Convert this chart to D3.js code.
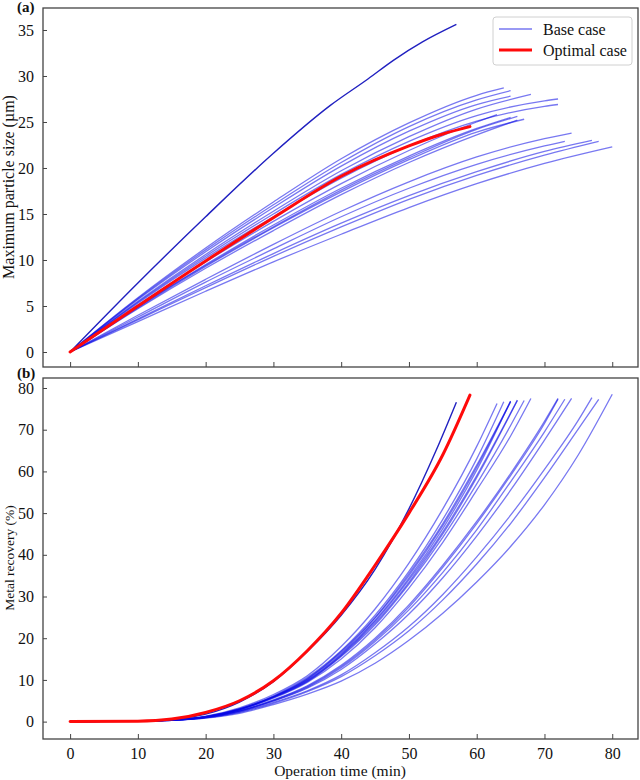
<!DOCTYPE html>
<html><head><meta charset="utf-8">
<script src="https://cdn.jsdelivr.net/npm/d3@7"></script>
<style>body{margin:0;background:#fff}svg{display:block}</style>
</head><body><svg id="c" width="640" height="780"></svg>
<script>
// ---- data ----
const xTicks = [0,10,20,30,40,50,60,70,80];
const sizeTicks = [0,5,10,15,20,25,30,35];
const recTicks = [0,10,20,30,40,50,60,70,80];
const legendLabels = ["Base case","Optimal case"];

// Panel (a): maximum particle size (um) vs time (min), one list per base-case run
const sizeDark = [[0,0],[10,7.5],[20,14.7],[30,21.6],[38.4,26.8],[44,29.7],[47.7,31.7],[52,33.7],[57,35.6]];
const sizeU1 = [[0,0],[10,5.9],[20,11.3],[30,16.3],[40,21.0],[50,24.9],[60,27.9],[64,28.7]];
const sizeU2 = [[0,0],[10,5.8],[20,11.1],[30,16.0],[40,20.6],[50,24.5],[60,27.4],[65,28.4]];
const sizeU3 = [[0,0],[10,5.7],[20,10.9],[30,15.7],[40,20.2],[50,24.0],[60,26.9],[65,27.8]];
const sizeU4 = [[0,0],[10,5.5],[20,10.6],[30,15.3],[40,19.7],[50,23.4],[60,26.4],[68,28.0]];
const sizeU5 = [[0,0],[10,5.4],[20,10.4],[30,15.0],[40,19.3],[50,22.9],[60,25.7],[70,27.3],[72,27.5]];
const sizeU6 = [[0,0],[10,5.3],[20,10.2],[30,14.7],[40,18.9],[50,22.4],[60,25.1],[70,26.7],[72,26.9]];
const sizeM1 = [[0,0],[10,5.1],[20,9.8],[30,14.2],[40,18.3],[50,21.9],[60,25.0],[63,25.8]];
const sizeM2 = [[0,0],[10,4.9],[20,9.5],[30,13.8],[40,17.8],[50,21.3],[60,24.3],[65,25.5]];
const sizeM3 = [[0,0],[10,4.8],[20,9.3],[30,13.5],[40,17.4],[50,20.9],[60,23.9],[67,25.3]];
const sizeM4 = [[0,0],[10,4.9],[20,9.4],[30,13.6],[40,17.6],[50,21.1],[60,24.2],[66,25.6]];
const sizeM5 = [[0,0],[10,4.7],[20,9.1],[30,13.2],[40,17.1],[50,20.6],[60,23.6],[66,25.2]];
const sizeL1 = [[0,0],[10,4.0],[20,7.9],[30,11.7],[40,15.3],[50,18.5],[60,21.2],[70,23.2],[74,23.8]];
const sizeL2 = [[0,0],[10,3.8],[20,7.6],[30,11.2],[40,14.7],[50,17.8],[60,20.4],[70,22.4],[73,22.9]];
const sizeL3 = [[0,0],[10,3.6],[20,7.2],[30,10.7],[40,14.0],[50,17.0],[60,19.6],[70,21.8],[77,23.0]];
const sizeL4 = [[0,0],[10,3.5],[20,7.0],[30,10.4],[40,13.6],[50,16.6],[60,19.2],[70,21.4],[78,22.9]];
const sizeL5 = [[0,0],[10,3.3],[20,6.6],[30,9.8],[40,12.8],[50,15.7],[60,18.3],[70,20.5],[80,22.3]];
const sizeOptimal = [[0,0],[10,5.0],[20,9.9],[30,14.6],[40,19.1],[50,22.4],[55,23.7],[59,24.5]];

// Panel (b): metal recovery (%) vs time (min)
const recDark = [[0,0],[10,0.1],[15,0.5],[20,1.8],[25,4.7],[30,9.6],[35,16.8],[40,25.5],[45,36.5],[50,51],[54,65],[57,76.6]];
const recU1 = [[0,0],[10,0.1],[15,0.4],[20,1.2],[25,3.1],[30,6.2],[35,10.6],[40,17],[45,25.5],[50,36],[55,48.5],[60,63],[64,76.7]];
const recU2 = [[0,0],[10,0.1],[15,0.4],[20,1.2],[25,3.0],[30,6.0],[35,10.3],[40,16.5],[45,24.8],[50,35],[55,47],[60,61],[65,76.7]];
const recU3 = [[0,0],[10,0.1],[15,0.4],[20,1.2],[25,3.0],[30,5.9],[35,10.0],[40,16.2],[45,24.3],[50,34.4],[55,46.3],[60,60.3],[65,76.9]];
const recU4 = [[0,0],[10,0.1],[15,0.35],[20,1.1],[25,2.8],[30,5.6],[35,9.4],[40,15],[45,22.5],[50,32],[55,43],[60,55.5],[65,68.5],[68,77.5]];
const recU5 = [[0,0],[10,0.1],[15,0.35],[20,1.0],[25,2.6],[30,5.2],[35,8.6],[40,13.5],[45,20],[50,28],[55,37.5],[60,48],[65,59.5],[70,72],[72,77.5]];
const recU6 = [[0,0],[10,0.1],[15,0.35],[20,1.0],[25,2.6],[30,5.1],[35,8.4],[40,13.2],[45,19.6],[50,27.5],[55,37],[60,47.5],[65,59],[70,71.5],[72,77.3]];
const recM1 = [[0,0],[10,0.1],[15,0.45],[20,1.3],[25,3.3],[30,6.5],[35,11],[40,18],[45,27],[50,38],[55,51],[60,66],[63,76.3]];
const recM2 = [[0,0],[10,0.1],[15,0.4],[20,1.2],[25,3.0],[30,6.0],[35,10.2],[40,16.8],[45,25],[50,35.5],[55,47.5],[60,61.5],[65,76.8]];
const recM3 = [[0,0],[10,0.1],[15,0.4],[20,1.1],[25,2.9],[30,5.8],[35,9.6],[40,15.6],[45,23.2],[50,33],[55,44.2],[60,57],[65,71],[67,77]];
const recM4 = [[0,0],[10,0.1],[15,0.4],[20,1.15],[25,2.9],[30,5.9],[35,9.9],[40,16],[45,24],[50,34],[55,45.5],[60,59],[66,77.1]];
const recM5 = [[0,0],[10,0.1],[15,0.4],[20,1.1],[25,2.9],[30,5.8],[35,9.7],[40,15.8],[45,23.6],[50,33.4],[55,45],[60,58.5],[66,77.0]];
const recL1 = [[0,0],[10,0.1],[15,0.3],[20,1.0],[25,2.5],[30,4.9],[35,8.0],[40,12.5],[45,18.6],[50,25.8],[55,34.5],[60,44.5],[65,55.5],[70,67.5],[74,77.5]];
const recL2 = [[0,0],[10,0.1],[15,0.3],[20,1.0],[25,2.5],[30,5.0],[35,8.2],[40,12.9],[45,19.2],[50,26.8],[55,35.8],[60,46],[65,57.5],[70,69.5],[73,77.3]];
const recL3 = [[0,0],[10,0.1],[15,0.3],[20,0.95],[25,2.3],[30,4.6],[35,7.4],[40,11.2],[45,16.5],[50,22.8],[55,30.5],[60,39.5],[65,49.5],[70,60.5],[75,72.3],[77,77.7]];
const recL4 = [[0,0],[10,0.1],[15,0.3],[20,0.9],[25,2.2],[30,4.4],[35,7.2],[40,10.8],[45,15.8],[50,21.8],[55,29.2],[60,37.8],[65,47.5],[70,58.5],[75,70.2],[78,77.3]];
const recL5 = [[0,0],[10,0.1],[15,0.3],[20,0.85],[25,2.0],[30,4.1],[35,6.6],[40,9.7],[45,14],[50,19.5],[55,26],[60,33.5],[65,42],[70,52],[75,64],[80,78.5]];
const recOptimal = [[0,0],[10,0.1],[15,0.6],[20,2.2],[25,5.0],[30,9.8],[35,17],[40,26],[45,37.5],[50,50],[55,64],[59,78.3]];

const sizeBase = [sizeU1,sizeU2,sizeU3,sizeU4,sizeU5,sizeU6,sizeM1,sizeM2,sizeM3,sizeM4,sizeM5,sizeL1,sizeL2,sizeL3,sizeL4,sizeL5];
const recBase = [recU1,recU2,recU3,recU4,recU5,recU6,recM1,recM2,recM3,recM4,recM5,recL1,recL2,recL3,recL4,recL5];

// ---- drawing ----
const FONT = "'Liberation Serif', 'Times New Roman', Times, 'DejaVu Serif', serif";
const svg = d3.select("#c").attr("font-family", FONT);
const L = 43, R = 638;
const x = d3.scaleLinear([-4, 83.8], [L, R]);
const ya = d3.scaleLinear([-1.63, 37.39], [367, 8]);
const yb = d3.scaleLinear([-4.17, 82.4], [739, 378]);

const baseColor = "rgba(10,10,230,0.55)";
const darkColor = "#2020c0";
const redColor = "#ff0a0a";

function panel(y, base, dark, opt, yTicks, showX) {
  const g = svg.append("g");
  const line = d3.line().x(d => x(d[0])).y(d => y(d[1])).curve(d3.curveMonotoneX);
  base.forEach(s => g.append("path").attr("d", line(s)).attr("fill","none")
    .attr("stroke", baseColor).attr("stroke-width", 1.3));
  g.append("path").attr("d", line(dark)).attr("fill","none").attr("stroke", darkColor).attr("stroke-width", 1.4);
  g.append("path").attr("d", line(opt)).attr("fill","none").attr("stroke", redColor).attr("stroke-width", 3)
    .attr("stroke-linecap","round");

  const [y0, y1] = y.range();
  const ya_ = svg.append("g").attr("transform", `translate(${L},0)`)
    .call(d3.axisLeft(y).tickValues(yTicks).tickSize(-4).tickPadding(9));
  ya_.attr("font-family", FONT).attr("font-size", 16);
  ya_.select(".domain").remove();
  ya_.selectAll("text").attr("fill", "#111");
  ya_.selectAll("line").attr("stroke", "#444");

  const xa = svg.append("g").attr("transform", `translate(0,${y0})`)
    .call(d3.axisBottom(x).tickValues(xTicks).tickSize(-5).tickPadding(9).tickFormat(showX ? d3.format("d") : ""));
  xa.attr("font-family", FONT).attr("font-size", 16);
  xa.select(".domain").remove();
  xa.selectAll("text").attr("fill", "#111");
  xa.selectAll("line").attr("stroke", "#444");

  svg.append("rect").attr("x", L).attr("y", y1).attr("width", R - L).attr("height", y0 - y1)
    .attr("fill", "none").attr("stroke", "#444").attr("stroke-width", 1.3);
}

panel(ya, sizeBase, sizeDark, sizeOptimal, sizeTicks, false);
panel(yb, recBase, recDark, recOptimal, recTicks, true);

// labels
svg.append("text").attr("x", 17).attr("y", 12).attr("font-size", 15).attr("font-weight", "bold").attr("fill","#111").text("(a)");
svg.append("text").attr("x", 17).attr("y", 378).attr("font-size", 15).attr("font-weight", "bold").attr("fill","#111").text("(b)");
svg.append("text").attr("transform", "translate(14,187) rotate(-90)").attr("text-anchor", "middle")
  .attr("font-size", 16).attr("fill","#111").text("Maximum particle size (\u00b5m)");
svg.append("text").attr("transform", "translate(14,558) rotate(-90)").attr("text-anchor", "middle")
  .attr("font-size", 13.5).attr("fill","#111").text("Metal recovery (%)");
svg.append("text").attr("x", 340).attr("y", 776).attr("text-anchor", "middle")
  .attr("font-size", 15.5).attr("fill","#111").text("Operation time (min)");

// legend
const lg = svg.append("g");
lg.append("rect").attr("x", 493).attr("y", 17).attr("width", 139).attr("height", 48).attr("rx", 3)
  .attr("fill", "#fff").attr("stroke", "#d0d0d0").attr("stroke-width", 1);
const legendStyles = [{c: baseColor, w: 1.5}, {c: redColor, w: 3}];
legendLabels.forEach((t, i) => {
  const yy = 29 + i * 21;
  lg.append("line").attr("x1", 499).attr("x2", 532).attr("y1", yy).attr("y2", yy)
    .attr("stroke", legendStyles[i].c).attr("stroke-width", legendStyles[i].w);
  lg.append("text").attr("x", 543).attr("y", yy + 5.5).attr("font-size", 16).attr("fill","#111").text(t);
});
</script></body></html>
